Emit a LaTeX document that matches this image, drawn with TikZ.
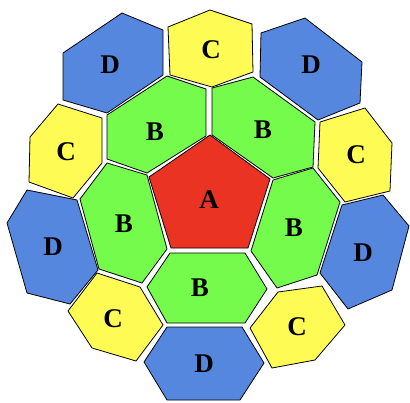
\documentclass[tikz,border=0pt]{standalone}
\usepackage{fontspec}
\setmainfont{Liberation Serif}
\usepackage{xcolor}
\usepackage{tikz}
\definecolor{cellR}{HTML}{EA3323}
\definecolor{cellG}{HTML}{75FB4C}
\definecolor{cellBl}{HTML}{5587DF}
\definecolor{cellY}{HTML}{FFFB55}

\begin{document}
\begin{tikzpicture}[
  x=1pt,y=-1pt,
  cell/.style={draw=black,line width=0.8pt,line join=miter},
  cellA/.style={cell,fill=cellR},
  cellB/.style={cell,fill=cellG},
  cellC/.style={cell,fill=cellY},
  cellD/.style={cell,fill=cellBl},
  lbl/.style={font=\fontsize{27}{27}\selectfont\bfseries,inner sep=0pt}
]
\useasboundingbox (0,0) rectangle (410,402);
% centre
\draw[cellA] (210,135) -- (270,179) -- (248,248) -- (171,248) -- (149,177) -- cycle;
\node[lbl] (a) at (209,200) {A};
% inner ring
\draw[cellB] (107,115) -- (167,76) -- (206,89) -- (206,136) -- (147,173) -- (107,159) -- cycle;
\node[lbl] (b1) at (155,132) {B};
\draw[cellB] (212,88) -- (253,77) -- (315,122) -- (313,167) -- (273,178) -- (212,135) -- cycle;
\node[lbl] (b2) at (263,130) {B};
\draw[cellB] (80,199) -- (107,163) -- (147,175) -- (167,249) -- (142,283) -- (99,269) -- cycle;
\node[lbl] (b3) at (124,224) {B};
\draw[cellB] (273,180) -- (313,168) -- (340,202) -- (317,275) -- (277,288) -- (251,251) -- cycle;
\node[lbl] (b4) at (294,228) {B};
\draw[cellB] (170,253) -- (245,253) -- (267,289) -- (245,323) -- (167,323) -- (147,287) -- cycle;
\node[lbl] (b5) at (200,288) {B};
% outer ring
\draw[cellD] (63,53) -- (122,13) -- (163,30) -- (163,75) -- (107,113) -- (63,100) -- cycle;
\node[lbl] (d1) at (110,65) {D};
\draw[cellC] (168,27) -- (210,10) -- (252,24) -- (253,72) -- (212,87) -- (170,75) -- cycle;
\node[lbl] (c1) at (211,50) {C};
\draw[cellD] (261,33) -- (305,18) -- (362,62) -- (360,103) -- (318,120) -- (260,77) -- cycle;
\node[lbl] (d2) at (311,65) {D};
\draw[cellC] (30,137) -- (58,104) -- (102,118) -- (102,163) -- (73,198) -- (29,182) -- cycle;
\node[lbl] (c2) at (66,152) {C};
\draw[cellC] (320,122) -- (365,108) -- (392,143) -- (390,191) -- (345,202) -- (318,168) -- cycle;
\node[lbl] (c3) at (356,155) {C};
\draw[cellD] (7,223) -- (27,190) -- (77,200) -- (98,270) -- (70,304) -- (27,293) -- cycle;
\node[lbl] (d3) at (53,247) {D};
\draw[cellD] (342,205) -- (383,195) -- (409,226) -- (392,290) -- (348,309) -- (320,273) -- cycle;
\node[lbl] (d4) at (363,253) {D};
\draw[cellC] (68,311) -- (97,273) -- (140,287) -- (163,325) -- (136,361) -- (92,348) -- cycle;
\node[lbl] (c4) at (113,319) {C};
\draw[cellC] (250,328) -- (278,292) -- (322,286) -- (345,325) -- (315,360) -- (272,368) -- cycle;
\node[lbl] (c5) at (297,327) {C};
\draw[cellD] (144,362) -- (167,327) -- (242,327) -- (264,363) -- (240,400) -- (167,400) -- cycle;
\node[lbl] (d5) at (204,364) {D};
\end{tikzpicture}
\end{document}
